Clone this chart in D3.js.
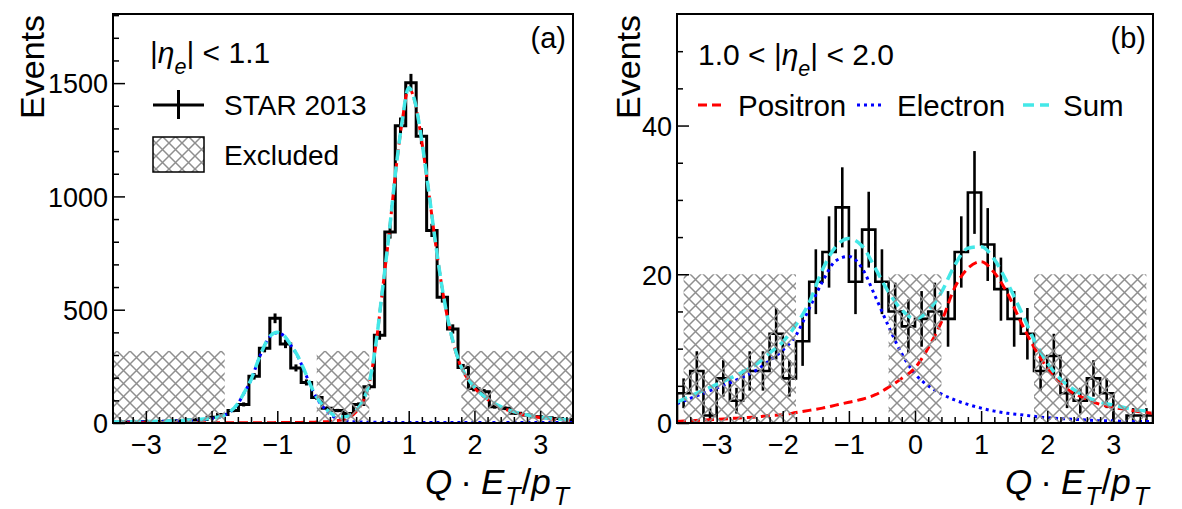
<!DOCTYPE html>
<html>
<head>
<meta charset="utf-8">
<script src="https://cdn.jsdelivr.net/npm/d3@7"></script>
<style>
  body { margin: 0; background: #fff; }
  svg text { font-family: "Liberation Sans", Arial, Helvetica, sans-serif; }
</style>
</head>
<body>
<div id="chart"></div>
<script>
// ---- data ----
// panel (a): 44 bins in [-3.5, 3.5]
const countsA = [3, 4, 4, 6, 7, 9, 10, 13, 16, 25, 38, 55, 82, 206, 330, 462, 349, 243, 179, 112,
                 65, 55, 42, 82, 160, 387, 843, 1312, 1502, 1266, 850, 555, 415, 245, 152, 138, 72, 65, 43, 35,
                 28, 23, 20, 15];
// panel (b): 36 bins in [-3.6, 3.6]
const countsB = [4, 7, 1, 6, 3, 7, 7, 12, 6, 11, 19, 23, 29, 19, 26, 19, 15, 13, 14, 15,
                 14, 23, 31, 24, 18, 14, 12, 7, 9, 4, 3, 6, 4, 0, 1, 1];

// fitted templates, panel (a)
const curveXA = [-3.5, -3.0, -2.5, -2.0, -1.8, -1.6, -1.5, -1.4, -1.3, -1.2, -1.1, -1.0, -0.9, -0.8, -0.7, -0.6,
                 -0.5, -0.4, -0.3, -0.2, -0.1, 0.0, 0.1, 0.2, 0.3, 0.4, 0.5, 0.6, 0.7, 0.8, 0.9, 1.0, 1.1, 1.2,
                 1.3, 1.4, 1.5, 1.6, 1.7, 1.8, 1.9, 2.0, 2.2, 2.4, 2.6, 2.8, 3.0, 3.2, 3.5];
const electronA = [3, 6, 10, 20, 35, 85, 135, 190, 268, 338, 385, 398, 385, 345, 300, 238, 168, 110, 70, 40,
                   20, 12, 7, 5, 4, 3, 3, 2, 2, 2, 2, 2, 2, 2, 2, 2, 2, 2, 2, 2, 2, 2, 2, 2, 2, 2, 2, 2, 2];
const positronA = [1, 1, 1, 1, 1, 1, 1, 1, 1, 1, 1, 2, 2, 2, 2, 3, 3, 4, 5, 7, 10, 15, 26, 50, 92, 175, 345,
                   585, 830, 1105, 1330, 1478, 1410, 1240, 1030, 810, 610, 450, 330, 245, 195, 155, 105, 70,
                   48, 33, 24, 17, 11];
const sumA = [4, 7, 11, 21, 36, 86, 136, 191, 269, 339, 386, 400, 387, 347, 302, 241, 171, 114, 75, 47, 30,
              27, 33, 55, 96, 178, 348, 587, 832, 1107, 1332, 1480, 1412, 1242, 1032, 812, 612, 452, 332, 247,
              197, 157, 107, 72, 50, 35, 26, 19, 13];

// fitted templates, panel (b)
const curveXB = [-3.6, -3.4, -3.2, -3.0, -2.8, -2.6, -2.4, -2.2, -2.0, -1.8, -1.6, -1.4, -1.2, -1.0, -0.8, -0.6,
                 -0.4, -0.2, 0.0, 0.2, 0.4, 0.6, 0.8, 1.0, 1.2, 1.4, 1.6, 1.8, 2.0, 2.2, 2.4, 2.6, 2.8, 3.0,
                 3.2, 3.4, 3.6];
const electronB = [2.6, 3.3, 4.0, 4.7, 5.4, 6.2, 7.1, 8.4, 9.8, 11.8, 15.4, 19.0, 21.8, 22.4, 20.8, 17.0, 13.0,
                   9.3, 6.6, 5.0, 3.9, 3.1, 2.5, 2.0, 1.6, 1.3, 1.1, 0.9, 0.7, 0.6, 0.5, 0.4, 0.3, 0.3, 0.2, 0.2, 0.2];
const positronB = [0.2, 0.3, 0.4, 0.5, 0.6, 0.7, 0.8, 1.0, 1.1, 1.4, 1.7, 2.0, 2.4, 2.8, 3.2, 3.8, 4.8, 6.0,
                   7.4, 10.1, 13.6, 18.2, 20.8, 21.7, 20.2, 17.4, 13.6, 10.2, 7.4, 5.3, 4.0, 3.2, 2.5, 2.1, 1.8, 1.5, 1.3];
const sumB = [2.8, 3.6, 4.4, 5.2, 6.0, 6.9, 7.9, 9.4, 10.9, 13.2, 16.2, 20.6, 23.7, 24.8, 23.8, 20.8, 17.6,
              15.2, 14.0, 15.1, 17.6, 21.2, 23.5, 23.7, 22.0, 18.8, 15.1, 11.2, 8.1, 5.9, 4.5, 3.5, 2.8, 2.4,
              2.0, 1.7, 1.5];

// excluded regions [lo, hi] and hatch height
const excludedA = [[-3.5, -1.8], [-0.4, 0.4], [1.8, 3.5]];
const excludedB = [[-3.5, -1.8], [-0.4, 0.4], [1.8, 3.5]];
const excludedHeightA = 318;
const excludedHeightB = 20;

const xTicks = [-3, -2, -1, 0, 1, 2, 3];
const yTicksA = [0, 500, 1000, 1500];
const yTicksB = [0, 20, 40];

// ---- drawing ----
const W = 1182, H = 509;
const svg = d3.select("#chart").append("svg")
    .attr("width", W)
    .attr("height", H);
svg.append("rect").attr("width", W).attr("height", H).attr("fill", "#fff");

const defs = svg.append("defs");
const hatch = defs.append("pattern")
    .attr("id", "hatch")
    .attr("patternUnits", "userSpaceOnUse")
    .attr("width", 13)
    .attr("height", 13);
hatch.append("path")
    .attr("d", "M0,0L13,13M13,0L0,13")
    .attr("stroke", "#8f8f8f")
    .attr("stroke-width", 1.5);

const TICK_FONT = 27;
const LEG_FONT = 28;

function drawPanel(cfg) {
    const x = d3.scaleLinear().domain(cfg.xDomain).range([cfg.left, cfg.right]);
    const y = d3.scaleLinear().domain(cfg.yDomain).range([cfg.bottom, cfg.top]);
    const g = svg.append("g");

    defs.append("clipPath").attr("id", cfg.id + "-clip")
        .append("rect")
        .attr("x", cfg.left).attr("y", cfg.top)
        .attr("width", cfg.right - cfg.left).attr("height", cfg.bottom - cfg.top);
    const plot = g.append("g").attr("clip-path", `url(#${cfg.id}-clip)`);

    // histogram outline
    const n = cfg.counts.length;
    const w = (cfg.histRange[1] - cfg.histRange[0]) / n;
    const edges = d3.range(n + 1).map(i => cfg.histRange[0] + i * w);
    const steps = [[edges[0], 0]];
    cfg.counts.forEach((c, i) => { steps.push([edges[i], c], [edges[i + 1], c]); });
    steps.push([edges[n], 0]);
    plot.append("path")
        .attr("d", d3.line().x(d => x(d[0])).y(d => y(d[1]))(steps))
        .attr("fill", "none")
        .attr("stroke", "#000")
        .attr("stroke-width", cfg.histWidth);

    // statistical error bars
    plot.selectAll(".err")
        .data(cfg.counts.map((c, i) => ({ c, xc: edges[i] + w / 2 })).filter(d => d.c > 0))
        .enter().append("line")
        .attr("x1", d => x(d.xc)).attr("x2", d => x(d.xc))
        .attr("y1", d => y(d.c - Math.sqrt(d.c)))
        .attr("y2", d => y(d.c + Math.sqrt(d.c)))
        .attr("stroke", "#000")
        .attr("stroke-width", cfg.histWidth);

    // templates
    const curve = vals => d3.line()
        .x((d, i) => x(cfg.curveX[i]))
        .y(d => y(d))
        .curve(d3.curveMonotoneX)(vals);
    plot.append("path").attr("d", curve(cfg.electron))
        .attr("fill", "none").attr("stroke", "#0000ff").attr("stroke-width", 3)
        .attr("stroke-dasharray", "3,4");
    plot.append("path").attr("d", curve(cfg.positron))
        .attr("fill", "none").attr("stroke", "#ff0000").attr("stroke-width", 3)
        .attr("stroke-dasharray", "9,5");
    plot.append("path").attr("d", curve(cfg.sum))
        .attr("fill", "none").attr("stroke", "#44e8e8").attr("stroke-width", 3.5)
        .attr("stroke-dasharray", "11,6");

    // excluded regions
    plot.selectAll(".excl")
        .data(cfg.excluded)
        .enter().append("rect")
        .attr("x", d => x(d[0]))
        .attr("width", d => x(d[1]) - x(d[0]))
        .attr("y", y(cfg.excludedHeight))
        .attr("height", y(0) - y(cfg.excludedHeight))
        .attr("fill", "url(#hatch)");

    // axes (ticks inside the frame, as in ROOT)
    const fmt = d => d < 0 ? "\u2212" + (-d) : String(d);
    const xAxis = g.append("g")
        .attr("transform", `translate(0,${cfg.bottom})`)
        .call(d3.axisBottom(x).tickValues(xTicks).tickSize(-12).tickPadding(12).tickFormat(fmt));
    const xMinor = d3.range(-34, 35, 2).map(v => v / 10).filter(v => !xTicks.includes(v));
    g.append("g")
        .attr("transform", `translate(0,${cfg.bottom})`)
        .call(d3.axisBottom(x).tickValues(xMinor).tickSize(-6).tickFormat(""));

    const yAxis = g.append("g")
        .attr("transform", `translate(${cfg.left},0)`)
        .call(d3.axisLeft(y).tickValues(cfg.yTicks).tickSize(-12).tickPadding(5).tickFormat(d3.format("d")));
    const yMinor = d3.range(0, cfg.yDomain[1], cfg.yMinorStep).filter(v => !cfg.yTicks.includes(v));
    g.append("g")
        .attr("transform", `translate(${cfg.left},0)`)
        .call(d3.axisLeft(y).tickValues(yMinor).tickSize(-6).tickFormat(""));

    g.selectAll(".domain").remove();
    g.selectAll(".tick line").attr("stroke", "#000").attr("stroke-width", 1.5);
    [xAxis, yAxis].forEach(a => a.attr("font-size", TICK_FONT)
        .attr("font-family", '"Liberation Sans", Arial, sans-serif'));
    yAxis.selectAll("text").attr("dy", "0.36em");

    // frame
    g.append("rect")
        .attr("x", cfg.left).attr("y", cfg.top)
        .attr("width", cfg.right - cfg.left).attr("height", cfg.bottom - cfg.top)
        .attr("fill", "none").attr("stroke", "#000").attr("stroke-width", 2);

    // axis titles
    g.append("text")
        .attr("transform", `translate(${cfg.yTitleX},${cfg.top + 1}) rotate(-90)`)
        .attr("text-anchor", "end")
        .attr("font-size", 34)
        .text("Events");

    const xt = g.append("text")
        .attr("x", cfg.right - 4)
        .attr("y", 494)
        .attr("text-anchor", "end")
        .attr("font-size", 35);
    xt.append("tspan").attr("font-style", "italic").text("Q");
    xt.append("tspan").attr("dx", 8).text("\u00b7");
    xt.append("tspan").attr("dx", 9).attr("font-style", "italic").text("E");
    xt.append("tspan").attr("font-style", "italic").attr("font-size", 25).attr("dx", 1).attr("dy", 11).text("T");
    xt.append("tspan").attr("dx", 1).attr("dy", -11).text("/");
    xt.append("tspan").attr("font-style", "italic").text("p");
    xt.append("tspan").attr("font-style", "italic").attr("font-size", 25).attr("dx", 3).attr("dy", 11).text("T");

    // panel tag
    g.append("text")
        .attr("x", cfg.right - 7).attr("y", 48)
        .attr("text-anchor", "end")
        .attr("font-size", 29)
        .text(cfg.tag);

    return { x, y, g };
}

function etaLabel(g, xPos, yPos, size, before, after) {
    const t = g.append("text").attr("x", xPos).attr("y", yPos).attr("font-size", size);
    t.append("tspan").text(before + "|");
    t.append("tspan").attr("font-style", "italic").text("\u03b7");
    t.append("tspan").attr("font-style", "italic").attr("font-size", size * 0.72).attr("dy", 11).text("e");
    t.append("tspan").attr("dy", -11).text("| " + after);
}

// panel (a)
const pa = drawPanel({
    id: "pa", tag: "(a)",
    left: 113, right: 573, top: 14, bottom: 423,
    xDomain: [-3.5, 3.5], yDomain: [0, 1805], yTicks: yTicksA, yMinorStep: 100,
    histRange: [-3.5, 3.5], counts: countsA, histWidth: 3,
    curveX: curveXA, electron: electronA, positron: positronA, sum: sumA,
    excluded: excludedA, excludedHeight: excludedHeightA,
    yTitleX: 44
});
etaLabel(pa.g, 150, 63, 30, "", "< 1.1");
// legend (a)
pa.g.append("line").attr("x1", 153).attr("x2", 204).attr("y1", 105).attr("y2", 105)
    .attr("stroke", "#000").attr("stroke-width", 3);
pa.g.append("line").attr("x1", 178.5).attr("x2", 178.5).attr("y1", 90).attr("y2", 119)
    .attr("stroke", "#000").attr("stroke-width", 3);
pa.g.append("text").attr("x", 224).attr("y", 115).attr("font-size", LEG_FONT).text("STAR 2013");
pa.g.append("rect").attr("x", 153).attr("y", 137).attr("width", 51).attr("height", 35)
    .attr("fill", "url(#hatch)").attr("stroke", "#000").attr("stroke-width", 1.5);
pa.g.append("text").attr("x", 224).attr("y", 165).attr("font-size", LEG_FONT).text("Excluded");

// panel (b)
const pb = drawPanel({
    id: "pb", tag: "(b)",
    left: 677, right: 1153, top: 14, bottom: 423,
    xDomain: [-3.6, 3.6], yDomain: [0, 55], yTicks: yTicksB, yMinorStep: 5,
    histRange: [-3.6, 3.6], counts: countsB, histWidth: 2.6,
    curveX: curveXB, electron: electronB, positron: positronB, sum: sumB,
    excluded: excludedB, excludedHeight: excludedHeightB,
    yTitleX: 640
});
etaLabel(pb.g, 698, 65, 30, "1.0 < ", "< 2.0");
// legend (b)
const legB = [
    { label: "Positron", color: "#ff0000", dash: "9,5", x: 698, w: 3 },
    { label: "Electron", color: "#0000ff", dash: "3,4", x: 857, w: 3 },
    { label: "Sum", color: "#44e8e8", dash: "11,6", x: 1023, w: 3.5 }
];
legB.forEach(d => {
    pb.g.append("line").attr("x1", d.x).attr("x2", d.x + 26).attr("y1", 105).attr("y2", 105)
        .attr("stroke", d.color).attr("stroke-width", d.w).attr("stroke-dasharray", d.dash);
    pb.g.append("text").attr("x", d.x + 40).attr("y", 116).attr("font-size", 29.5).text(d.label);
});
</script>
</body>
</html>
